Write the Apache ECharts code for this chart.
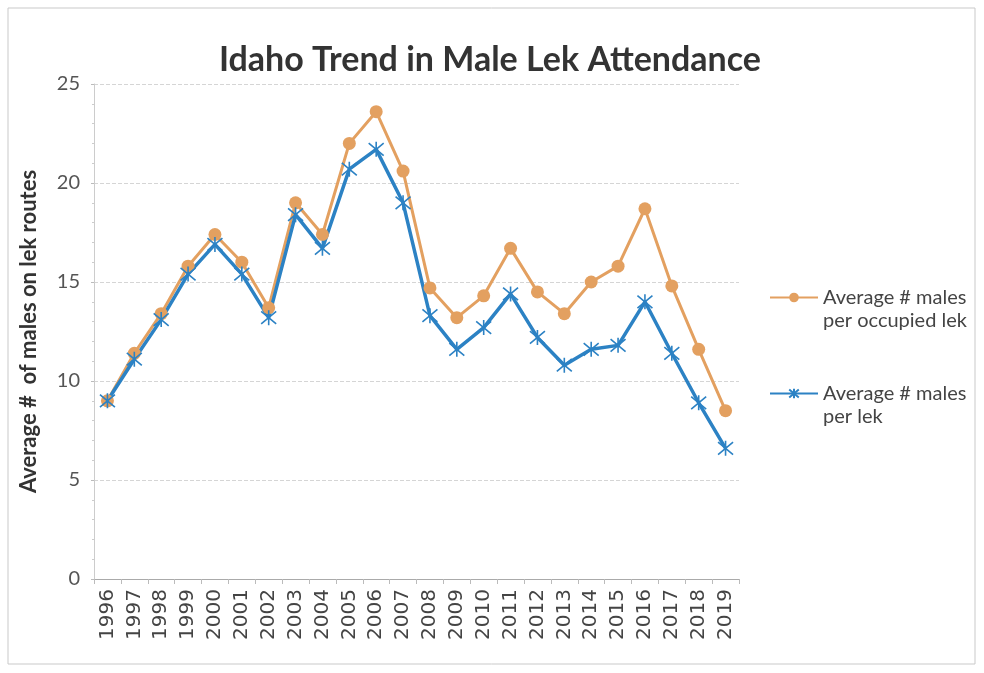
<!DOCTYPE html>
<html>
<head>
<meta charset="utf-8">
<script src="https://cdn.jsdelivr.net/npm/echarts@6/dist/echarts.min.js"></script>
<style>html,body{margin:0;padding:0;background:#fff;}#c{width:984px;height:673px;}</style>
</head>
<body>
<div id="c"></div>
<script>
const years = ['1996','1997','1998','1999','2000','2001','2002','2003','2004','2005','2006','2007','2008','2009','2010','2011','2012','2013','2014','2015','2016','2017','2018','2019'];
const occupiedLek = [9.0,11.4,13.4,15.8,17.4,16.0,13.7,19.0,17.4,22.0,23.6,20.6,14.7,13.2,14.3,16.7,14.5,13.4,15.0,15.8,18.7,14.8,11.6,8.5];
const perLek = [9.0,11.1,13.1,15.4,16.9,15.4,13.2,18.4,16.7,20.7,21.7,19.0,13.3,11.6,12.7,14.4,12.2,10.8,11.6,11.8,14.0,11.4,8.9,6.6];
const yTicks = [0,5,10,15,20,25];
const seriesNames = ['Average # males per occupied lek','Average # males per lek'];

const orange = '#E3A060';
const blue = '#2C82C4';
const asterisk = 'path://M0,0L10,10M10,0L0,10M5,-1L5,11';

const chart = echarts.init(document.getElementById('c'));
chart.setOption({
  animation: false,
  backgroundColor: '#fff',
  graphic: [{
    type: 'rect', shape: {x: 8, y: 8, width: 967, height: 656},
    style: {fill: 'none', stroke: '#c9c9c9', lineWidth: 1}, silent: true, z: -1
  }],
  title: {
    text: 'Idaho Trend in Male Lek Attendance',
    left: 485, top: 38, textAlign: 'center',
    textStyle: {fontFamily: 'Lato', fontWeight: 'bold', fontSize: 34, color: '#333'}
  },
  legend: {
    orient: 'vertical', left: 764, top: 258, itemGap: 27,
    itemWidth: 48, itemHeight: 12,
    data: seriesNames,
    formatter: function (n) { return ' \n' + n.replace(' per', '\nper'); },
    textStyle: {fontFamily: 'Lato', fontSize: 20, color: '#444', lineHeight: 23}
  },
  grid: {left: 94, right: 245, top: 84, bottom: 94, containLabel: false},
  xAxis: {
    type: 'category', data: years, boundaryGap: true,
    axisLine: {lineStyle: {color: '#aaa'}},
    axisTick: {show: true, alignWithLabel: false, lineStyle: {color: '#bbb'}},
    axisLabel: {rotate: 90, fontFamily: 'DejaVu Sans', fontSize: 20, color: '#444', margin: 10}
  },
  yAxis: {
    type: 'value', min: yTicks[0], max: yTicks[yTicks.length - 1], interval: 5,
    name: 'Average #  of males on lek routes', nameLocation: 'middle', nameGap: 54,
    nameTextStyle: {fontFamily: 'Lato', fontWeight: 'bold', fontSize: 22, color: '#333'},
    axisLine: {show: true, lineStyle: {color: '#ccc'}},
    axisTick: {show: true, length: 3, lineStyle: {color: '#bbb'}},
    minorTick: {show: true, splitNumber: 5, length: 2, lineStyle: {color: '#ccc'}},
    axisLabel: {fontFamily: 'Lato', fontSize: 20, color: '#555', margin: 14},
    splitLine: {lineStyle: {color: '#d5d5d5', type: 'dashed'}}
  },
  series: [{
    name: seriesNames[0], type: 'line', data: occupiedLek,
    symbol: 'circle', symbolSize: 13,
    lineStyle: {color: orange, width: 3},
    itemStyle: {color: orange}
  }, {
    name: seriesNames[1], type: 'line', data: perLek,
    symbol: asterisk, symbolSize: 15,
    lineStyle: {color: blue, width: 3.5},
    itemStyle: {color: 'rgba(0,0,0,0)', borderColor: blue, borderWidth: 1.6}
  }]
});
</script>
</body>
</html>
